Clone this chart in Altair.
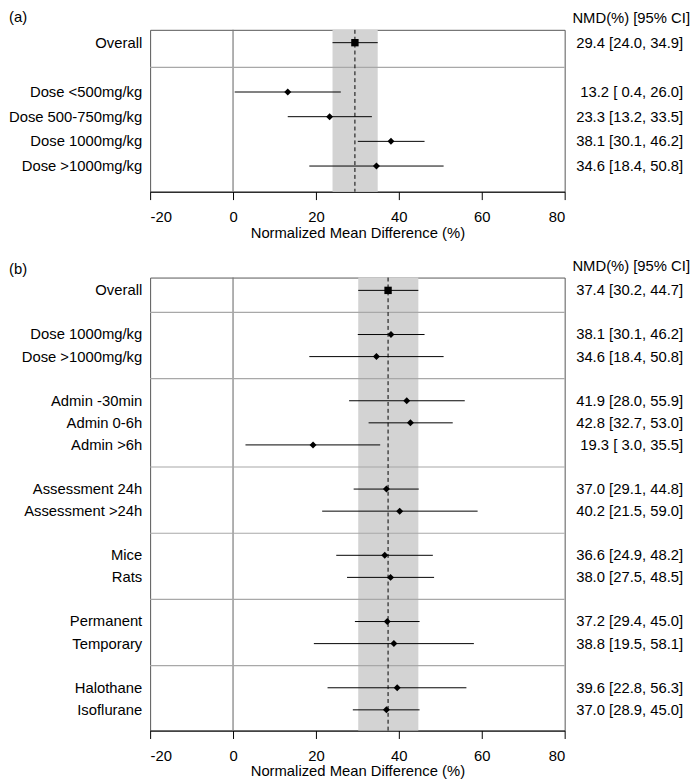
import altair as alt
import pandas as pd

FONT = "Liberation Sans"
FS = 15

# ---------------- Panel (a) ----------------
a_labels = ["Overall", "Dose <500mg/kg", "Dose 500-750mg/kg", "Dose 1000mg/kg", "Dose >1000mg/kg"]
a_est = [29.4, 13.2, 23.3, 38.1, 34.6]
a_lo = [24.0, 0.4, 13.2, 30.1, 18.4]
a_hi = [34.9, 26.0, 33.5, 46.2, 50.8]
a_groups = [1, 4]

# ---------------- Panel (b) ----------------
b_labels = ["Overall", "Dose 1000mg/kg", "Dose >1000mg/kg",
            "Admin -30min", "Admin 0-6h", "Admin >6h",
            "Assessment 24h", "Assessment >24h",
            "Mice", "Rats", "Permanent", "Temporary",
            "Halothane", "Isoflurane"]
b_est = [37.4, 38.1, 34.6, 41.9, 42.8, 19.3, 37.0, 40.2, 36.6, 38.0, 37.2, 38.8, 39.6, 37.0]
b_lo = [30.2, 30.1, 18.4, 28.0, 32.7, 3.0, 29.1, 21.5, 24.9, 27.5, 29.4, 19.5, 22.8, 28.9]
b_hi = [44.7, 46.2, 50.8, 55.9, 53.0, 35.5, 44.8, 59.0, 48.2, 48.5, 45.0, 58.1, 56.3, 45.0]
b_groups = [1, 2, 3, 2, 2, 2, 2]

x_ticks = [-20, 0, 20, 40, 60, 80]
x_title = "Normalized Mean Difference (%)"
header = "NMD(%) [95% CI]"
W = 420


def build(labels, est, lo, hi, groups, tag, height, ydom, tag_y):
    rows, seps = [], []
    r = 0
    for gi, g in enumerate(groups):
        for _ in range(g):
            rows.append(r)
            r += 1
        if gi < len(groups) - 1:
            seps.append(r)
            r += 1
    df = pd.DataFrame({
        "label": labels, "est": est, "lo": lo, "hi": hi, "row": rows,
        "kind": ["overall"] + ["study"] * (len(labels) - 1),
    })
    df["txt"] = [f"{e:.1f} [{l:4.1f}, {h:4.1f}]" for e, l, h in zip(est, lo, hi)]
    ov = df.iloc[[0]]
    sep_df = pd.DataFrame({"row": seps})

    xs = alt.Scale(domain=[-20, 80], nice=False, zero=False)
    xa = alt.Axis(values=x_ticks, title=x_title, grid=False, labelExpr="'' + datum.value")
    ys = alt.Scale(domain=ydom, nice=False, zero=False, reverse=True)

    band = alt.Chart(ov).mark_rect(color="#d3d3d3").encode(
        x=alt.X("lo:Q", scale=xs, axis=xa), x2="hi:Q",
        y=alt.value(0), y2=alt.value(height))
    zero = alt.Chart(pd.DataFrame({"z": [0]})).mark_rule(color="#7a7a7a", strokeWidth=1.2).encode(
        x=alt.X("z:Q", scale=xs, axis=xa))
    sep = alt.Chart(sep_df).mark_rule(color="#a8a8a8", strokeWidth=1.2).encode(
        y=alt.Y("row:Q", scale=ys, axis=None))
    dash = alt.Chart(ov).mark_rule(color="black", strokeDash=[4, 3], strokeWidth=1).encode(
        x=alt.X("est:Q", scale=xs, axis=xa))
    ci = alt.Chart(df).mark_rule(color="black", strokeWidth=1).encode(
        x=alt.X("lo:Q", scale=xs, axis=xa), x2="hi:Q",
        y=alt.Y("row:Q", scale=ys, axis=None))
    pts = alt.Chart(df).mark_point(filled=True, color="black", opacity=1).encode(
        x=alt.X("est:Q", scale=xs, axis=xa),
        y=alt.Y("row:Q", scale=ys, axis=None),
        shape=alt.Shape("kind:N", scale=alt.Scale(domain=["overall", "study"], range=["square", "diamond"]), legend=None),
        size=alt.Size("kind:N", scale=alt.Scale(domain=["overall", "study"], range=[56, 50]), legend=None))
    left = alt.Chart(df).mark_text(align="right", baseline="middle", fontSize=FS, font=FONT, color="black").encode(
        x=alt.value(-8), y=alt.Y("row:Q", scale=ys, axis=None), text="label:N")
    right = alt.Chart(df).mark_text(align="right", baseline="middle", fontSize=FS, font=FONT, color="black").encode(
        x=alt.value(540), y=alt.Y("row:Q", scale=ys, axis=None), text="txt:N")
    head = alt.Chart(pd.DataFrame({"t": [header]})).mark_text(
        align="right", baseline="middle", fontSize=FS, font=FONT, color="black").encode(
        x=alt.value(547), y=alt.value(-12), text="t:N")
    tg = alt.Chart(pd.DataFrame({"t": [tag]})).mark_text(
        align="left", baseline="middle", fontSize=FS, font=FONT, color="black").encode(
        x=alt.value(-143), y=alt.value(tag_y), text="t:N")
    return alt.layer(band, zero, sep, dash, ci, pts, left, right, head, tg).properties(width=W, height=height)


pa = build(a_labels, a_est, a_lo, a_hi, a_groups, "(a)", 164, [-0.52, 6.04], -13)
pb = build(b_labels, b_est, b_lo, b_hi, b_groups, "(b)", 459, [-0.58, 19.94], -9)

chart = alt.vconcat(pa, pb, spacing=17).resolve_scale(
    x="independent", y="independent", shape="shared", size="shared"
).properties(
    padding={"left": 0, "top": -4, "right": 0, "bottom": 0}
).configure_view(
    stroke="#555555", strokeWidth=1
).configure_axis(
    labelFont=FONT, titleFont=FONT, labelFontSize=FS, titleFontSize=FS,
    labelColor="black", titleColor="black", domainColor="black", tickColor="black",
    tickSize=8, titleFontWeight="normal", labelPadding=10, titlePadding=1,
    domainWidth=1, tickWidth=1
)

chart.save("out.html", embed_options={"renderer": "svg", "actions": False})
